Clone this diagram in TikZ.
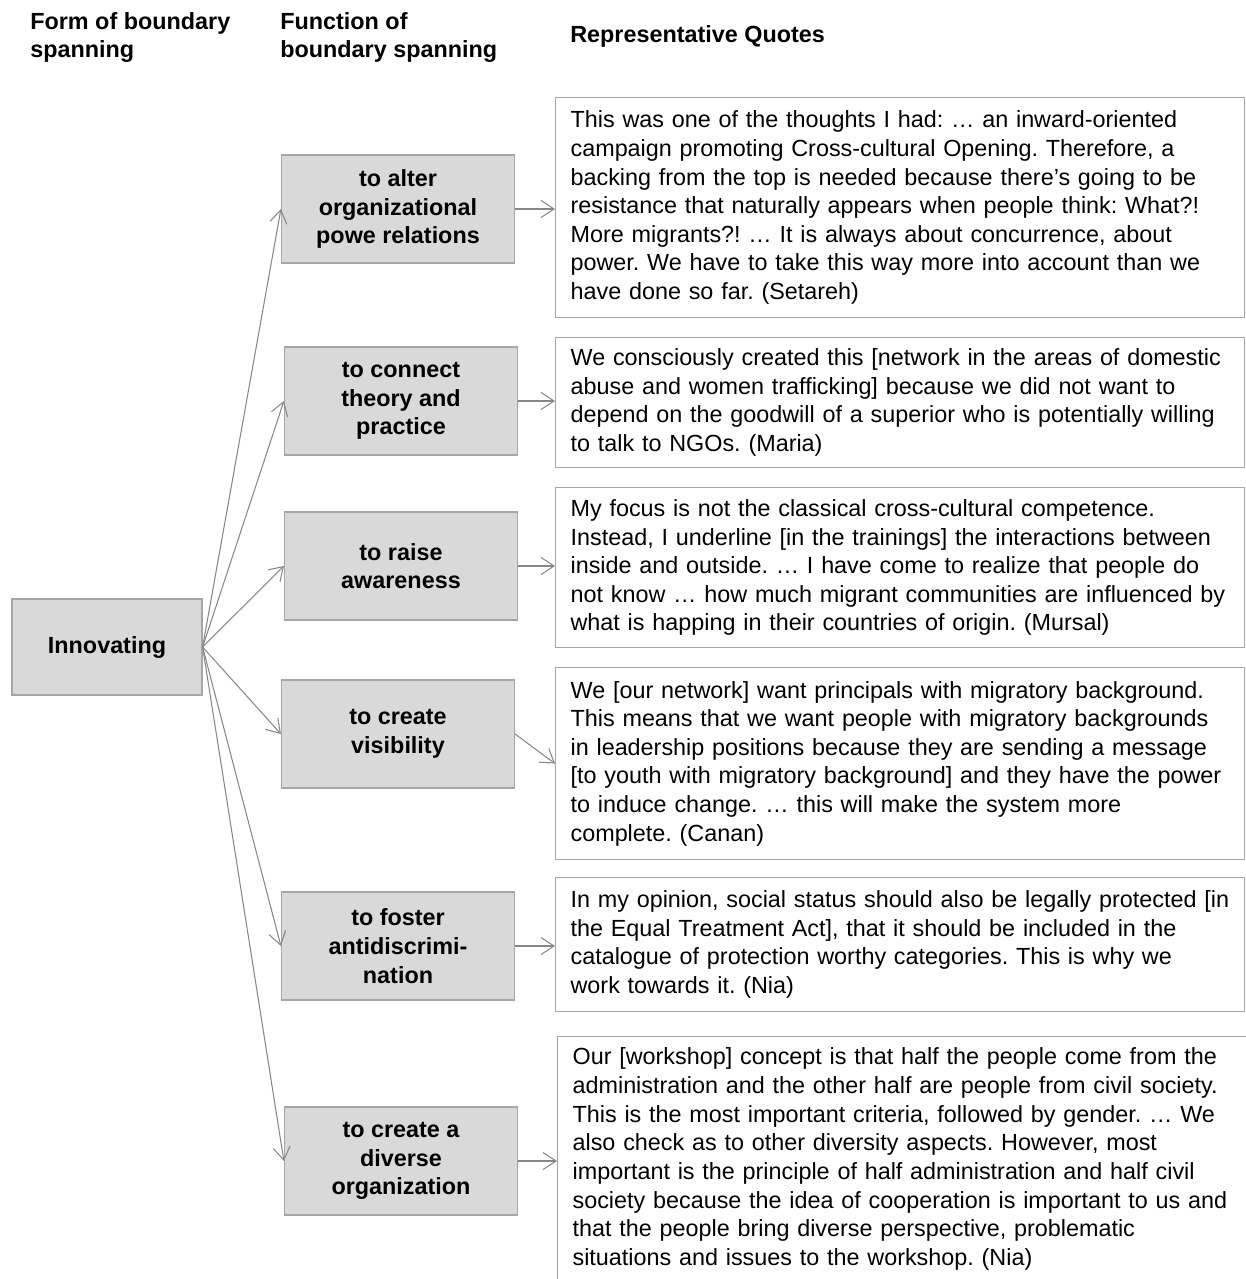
\documentclass[tikz,border=0pt]{standalone}
\usepackage{fontspec}
\setmainfont{Liberation Sans}
\usetikzlibrary{arrows.meta}
\frenchspacing
\definecolor{cajagris}{RGB}{217,217,217}
\definecolor{bordegris}{RGB}{166,166,166}
\definecolor{flechagris}{RGB}{135,135,135}
\newcommand{\letra}{\fontsize{13.3}{16.3}\selectfont}
\tikzset{
	funcion/.style={draw=bordegris, fill=cajagris, line width=0.7pt, minimum width=4.66cm, minimum height=2.16cm, align=center, font=\letra\bfseries}, % Cajas grises
	cita/.style={draw=bordegris, line width=0.7pt, anchor=north west, text width=13.18cm, inner xsep=0.3cm, inner ysep=0pt, align=left, font=\letra}, % Cajas de las citas
	titulo/.style={anchor=north west, inner sep=0pt, align=left, font=\letra\bfseries}, % Encabezados
	flecha/.style={-{Straight Barb[length=2.6mm,width=3.4mm]}, draw=flechagris, line width=0.6pt} % Flechas abiertas
}

\begin{document}
\begin{tikzpicture}[x=0.02cm, y=-0.02cm]
	\useasboundingbox (0,0) rectangle (1246,1279);
	% encabezados
	\node[titulo] (h1) at (30,12) {Form of boundary\\spanning};
	\node[titulo] (h2) at (280,12) {Function of\\boundary spanning};
	\node[titulo, anchor=west] (h3) at (570,36) {Representative Quotes};
	% forma
	\node[funcion, minimum width=3.8cm, minimum height=1.92cm] (I) at (107,647) {Innovating};
	% funciones
	\node[funcion] (f1) at (398,209) {to alter\\organizational\\powe relations};
	\node[funcion] (f2) at (401,401) {to connect\\theory and\\practice};
	\node[funcion] (f3) at (401,566) {to raise\\awareness};
	\node[funcion] (f4) at (398,734) {to create\\visibility};
	\node[funcion] (f5) at (398,946) {to foster\\antidiscrimi-\\nation};
	\node[funcion] (f6) at (401,1161) {to create a\\diverse\\organization};
	% citas
	\node[cita, minimum height=4.4cm] (q1) at (555,97) {This was one of the thoughts I had: … an inward-oriented\\campaign promoting Cross-cultural Opening. Therefore, a\\backing from the top is needed because there’s going to be\\resistance that naturally appears when people think: What?!\\More migrants?! … It is always about concurrence, about\\power. We have to take this way more into account than we\\have done so far. (Setareh)};
	\node[cita, minimum height=2.6cm] (q2) at (555,337) {We consciously created this [network in the areas of domestic\\abuse and women trafficking] because we did not want to\\depend on the goodwill of a superior who is potentially willing\\to talk to NGOs. (Maria)};
	\node[cita, minimum height=3.2cm] (q3) at (555,487) {My focus is not the classical cross-cultural competence.\\Instead, I underline [in the trainings] the interactions between\\inside and outside. … I have come to realize that people do\\not know … how much migrant communities are influenced by\\what is happing in their countries of origin. (Mursal)};
	\node[cita, minimum height=3.84cm] (q4) at (555,667) {We [our network] want principals with migratory background.\\This means that we want people with migratory backgrounds\\in leadership positions because they are sending a message\\{}[to youth with migratory background] and they have the power\\to induce change. … this will make the system more\\complete. (Canan)};
	\node[cita, minimum height=2.68cm] (q5) at (555,877) {In my opinion, social status should also be legally protected [in\\the Equal Treatment Act], that it should be included in the\\catalogue of protection worthy categories. This is why we\\work towards it. (Nia)};
	\node[cita, minimum height=4.9cm] (q6) at (557,1036) {Our [workshop] concept is that half the people come from the\\administration and the other half are people from civil society.\\This is the most important criteria, followed by gender. … We\\also check as to other diversity aspects. However, most\\important is the principle of half administration and half civil\\society because the idea of cooperation is important to us and\\that the people bring diverse perspective, problematic\\situations and issues to the workshop. (Nia)};
	% flechas
	\foreach \f in {f1,f2,f3,f4,f5,f6}
		\draw[flecha] (I.east) -- (\f.west);
	\draw[flecha] (f1.east) -- (f1.east -| q1.west);
	\draw[flecha] (f2.east) -- (f2.east -| q2.west);
	\draw[flecha] (f3.east) -- (f3.east -| q3.west);
	\draw[flecha] (f4.east) -- (q4.west);
	\draw[flecha] (f5.east) -- (f5.east -| q5.west);
	\draw[flecha] (f6.east) -- (f6.east -| q6.west);
\end{tikzpicture}
\end{document}
